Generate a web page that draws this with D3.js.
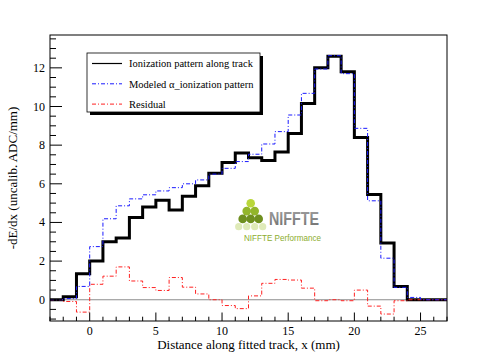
<!DOCTYPE html>
<html>
<head>
<meta charset="utf-8">
<script src="https://cdn.jsdelivr.net/npm/d3@7"></script>
<style>
  body { margin: 0; background: #fff; }
  svg { display: block; font-family: "Liberation Serif", "Times New Roman", serif; }
</style>
</head>
<body>
<div id="chart"></div>
<script>
// bin low edges (1 mm bins from -3 to 27)
var binEdges = d3.range(-3, 28, 1);

// measured ionization pattern along track, one value per bin
var measured = [0, 0.15, 1.35, 2.0, 3.0, 3.2, 4.25, 4.8, 5.15, 4.65, 5.35, 5.9, 6.55, 7.1, 7.6,
                7.35, 7.2, 7.65, 8.6, 10.15, 12.0, 12.6, 11.8, 8.4, 5.45, 2.93, 0.69, 0, 0, 0];

// modeled alpha ionization pattern
var modeled = [0, 0.06, 0.69, 2.75, 4.19, 4.86, 5.22, 5.43, 5.63, 5.8, 6.0, 6.2, 6.5, 6.8, 7.15,
               7.53, 8.06, 8.7, 9.56, 10.68, 11.94, 12.63, 11.7, 8.87, 5.12, 2.15, 0.64, 0.12, 0, 0];

// residual (model - data)
var residual = [0, -0.09, -0.64, 0.8, 1.22, 1.7, 0.97, 0.63, 0.48, 1.15, 0.65, 0.3, 0, -0.3, -0.46,
                0.2, 0.85, 1.05, 1.02, 0.6, -0.05, 0, -0.05, 0.5, -0.33, -0.74, -0.05, 0, 0, 0];

var xTicks = [0, 5, 10, 15, 20, 25];
var yTicks = [0, 2, 4, 6, 8, 10, 12];

var legendLabels = ["Ionization pattern along track", "Modeled \u03b1_ionization pattern", "Residual"];

var W = 498, H = 358;
var frame = {left: 50, right: 447, top: 35, bottom: 321};

var svg = d3.select("#chart").append("svg")
    .attr("width", W)
    .attr("height", H);

var x = d3.scaleLinear().domain([-3, 27]).range([frame.left, frame.right]);
var y = d3.scaleLinear().domain([-1.1, 13.7]).range([frame.bottom, frame.top]);

//////////////////////// logo (drawn first, behind the data) ////////////////////////
var logo = svg.append("g").attr("class", "logo");
var dots = [
  {r: 0, c: 0, col: "#b9d73a"},
  {r: 1, c: -0.5, col: "#93b52b"}, {r: 1, c: 0.5, col: "#93b52b"},
  {r: 2, c: -1, col: "#6f8f1f"}, {r: 2, c: 0, col: "#6f8f1f"}, {r: 2, c: 1, col: "#6f8f1f"},
  {r: 3, c: -1.5, col: "#dfeab8"}, {r: 3, c: -0.5, col: "#dfeab8"}, {r: 3, c: 0.5, col: "#dfeab8"}, {r: 3, c: 1.5, col: "#dfeab8"}
];
logo.selectAll("circle").data(dots).enter().append("circle")
    .attr("cx", function(d){ return 250.7 + d.c * 8; })
    .attr("cy", function(d){ return 203.3 + d.r * 7.8; })
    .attr("r", function(d){ return d.r == 3 ? 3.6 : 4.3; })
    .attr("fill", function(d){ return d.col; });

var grad = svg.append("defs").append("linearGradient")
    .attr("id", "niffteGrad").attr("x1", 0).attr("y1", 0).attr("x2", 0).attr("y2", 1);
grad.append("stop").attr("offset", "0%").attr("stop-color", "#a0a0a0");
grad.append("stop").attr("offset", "100%").attr("stop-color", "#6e6e6e");

logo.append("text")
    .attr("x", 269).attr("y", 225)
    .attr("textLength", 50).attr("lengthAdjust", "spacingAndGlyphs")
    .style("font-family", "'Liberation Sans', Arial, sans-serif")
    .style("font-weight", "bold")
    .style("font-size", "18px")
    .attr("fill", "url(#niffteGrad)")
    .text("NIFFTE");
logo.append("text")
    .attr("x", 244).attr("y", 240.5)
    .attr("textLength", 77).attr("lengthAdjust", "spacingAndGlyphs")
    .style("font-family", "'Liberation Sans', Arial, sans-serif")
    .style("font-size", "9px")
    .attr("fill", "#8cad2e")
    .text("NIFFTE Performance");

//////////////////////// histograms ////////////////////////
function stepPath(vals) {
  var pts = [];
  vals.forEach(function(v, i){
    pts.push([x(binEdges[i]), y(v)]);
    pts.push([x(binEdges[i + 1]), y(v)]);
  });
  return d3.line()(pts);
}

// zero line
svg.append("line")
    .attr("x1", x(-3)).attr("x2", x(27))
    .attr("y1", y(0)).attr("y2", y(0))
    .attr("stroke", "#8c8c8c").attr("stroke-width", 1.2);

svg.append("path")
    .attr("d", stepPath(measured))
    .attr("fill", "none").attr("stroke", "#000").attr("stroke-width", 3)
    .attr("stroke-linejoin", "miter");

svg.append("path")
    .attr("d", stepPath(residual))
    .attr("fill", "none").attr("stroke", "#ff2020").attr("stroke-width", 1)
    .attr("stroke-dasharray", "4,2,1,2");

svg.append("path")
    .attr("d", stepPath(modeled))
    .attr("fill", "none").attr("stroke", "#1a1aff").attr("stroke-width", 1)
    .attr("stroke-dasharray", "4,2,1,2");

//////////////////////// axes & frame ////////////////////////
svg.append("rect")
    .attr("x", frame.left).attr("y", frame.top)
    .attr("width", frame.right - frame.left).attr("height", frame.bottom - frame.top)
    .attr("fill", "none").attr("stroke", "#000").attr("stroke-width", 1);

var xAxis = svg.append("g").attr("transform", "translate(0," + frame.bottom + ")");
xAxis.selectAll(".minor").data(d3.range(-3, 28, 1)).enter().append("line")
    .attr("x1", x).attr("x2", x)
    .attr("y1", 0).attr("y2", function(d){ return xTicks.indexOf(d) >= 0 ? -8.5 : -4.3; })
    .attr("stroke", "#000");
xAxis.selectAll(".lab").data(xTicks).enter().append("text")
    .attr("x", x).attr("y", 14)
    .attr("text-anchor", "middle")
    .style("font-size", "12px")
    .text(function(d){ return d; });

var yAxis = svg.append("g").attr("transform", "translate(" + frame.left + ",0)");
yAxis.selectAll(".minor").data(d3.range(-1, 13.75, 0.5)).enter().append("line")
    .attr("y1", y).attr("y2", y)
    .attr("x1", 0).attr("x2", function(d){ return yTicks.indexOf(d) >= 0 ? 12 : 6; })
    .attr("stroke", "#000");
yAxis.selectAll(".lab").data(yTicks).enter().append("text")
    .attr("x", -5).attr("y", function(d){ return y(d) + 4; })
    .attr("text-anchor", "end")
    .style("font-size", "12px")
    .text(function(d){ return d; });

svg.append("text")
    .attr("x", (frame.left + frame.right) / 2).attr("y", 349)
    .attr("text-anchor", "middle")
    .style("font-size", "13px")
    .text("Distance along fitted track, x (mm)");

svg.append("text")
    .attr("transform", "translate(17," + (frame.top + frame.bottom) / 2 + ") rotate(-90)")
    .attr("text-anchor", "middle")
    .style("font-size", "13px")
    .text("-dE/dx (uncalib. ADC/mm)");

//////////////////////// legend ////////////////////////
var lg = {x: 87, y: 53, w: 173, h: 59};
svg.append("rect")
    .attr("x", lg.x + 3).attr("y", lg.y + 3).attr("width", lg.w).attr("height", lg.h)
    .attr("fill", "#000");
svg.append("rect")
    .attr("x", lg.x).attr("y", lg.y).attr("width", lg.w).attr("height", lg.h)
    .attr("fill", "#fff").attr("stroke", "#000").attr("stroke-width", 0.8);

var legendStyles = [
  {stroke: "#000", w: 1.2, dash: null},
  {stroke: "#1a1aff", w: 1, dash: "4,2,1,2"},
  {stroke: "#ff2020", w: 1, dash: "4,2,1,2"}
];
var rows = svg.selectAll(".lrow").data(legendLabels).enter().append("g")
    .attr("transform", function(d, i){ return "translate(" + lg.x + "," + (lg.y + 10.5 + i * 20.3) + ")"; });
rows.append("line")
    .attr("x1", 5).attr("x2", 35).attr("y1", 0).attr("y2", 0)
    .attr("stroke", function(d, i){ return legendStyles[i].stroke; })
    .attr("stroke-width", function(d, i){ return legendStyles[i].w; })
    .attr("stroke-dasharray", function(d, i){ return legendStyles[i].dash; });
rows.append("text")
    .attr("x", 42).attr("y", 3.8)
    .style("font-size", "10.5px")
    .text(function(d){ return d; });
</script>
</body>
</html>
